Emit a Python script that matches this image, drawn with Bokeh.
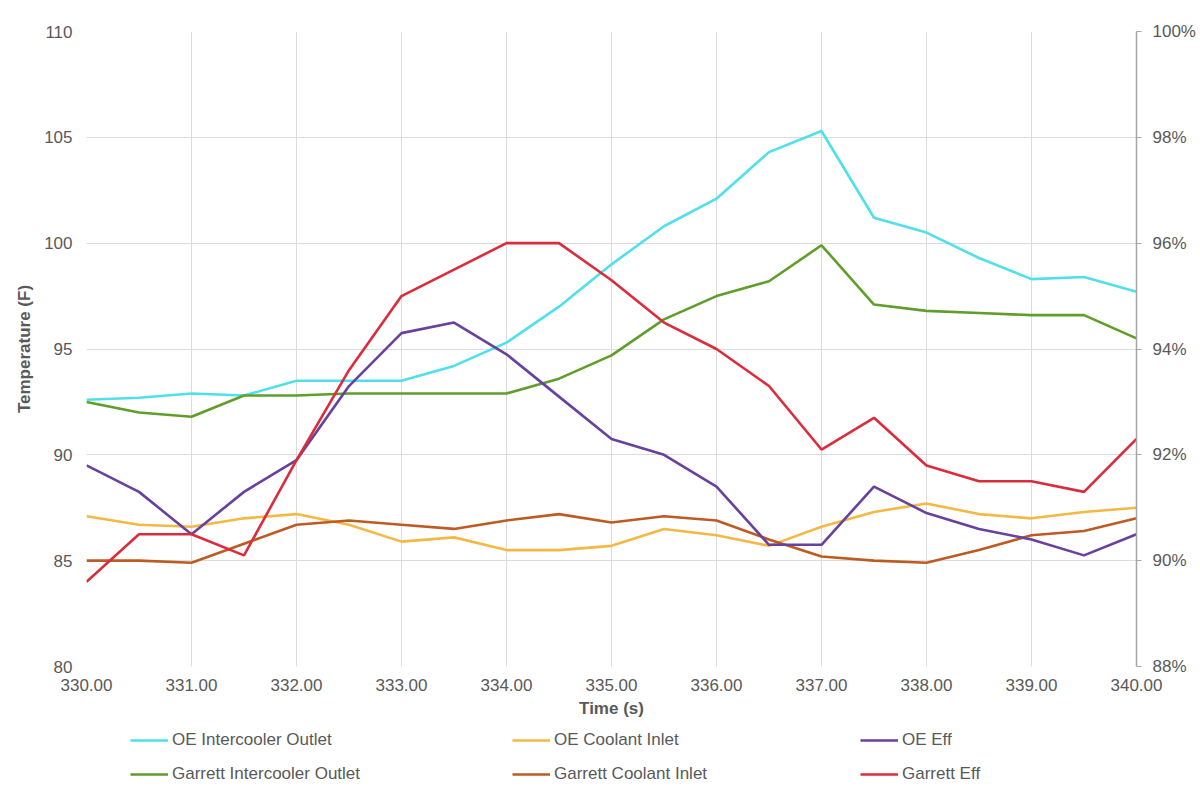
from bokeh.plotting import figure
from bokeh.layouts import column
from bokeh.models import (Range1d, LinearAxis, FixedTicker, PrintfTickFormatter,
                          Legend, LegendItem)
from bokeh.embed import file_html
from bokeh.resources import INLINE

time_s = [330.0, 330.5, 331.0, 331.5, 332.0, 332.5, 333.0, 333.5, 334.0, 334.5, 335.0,
          335.5, 336.0, 336.5, 337.0, 337.5, 338.0, 338.5, 339.0, 339.5, 340.0]

oe_ic_out = [92.6, 92.7, 92.9, 92.8, 93.5, 93.5, 93.5, 94.2, 95.3, 97.0, 99.0,
             100.8, 102.1, 104.3, 105.3, 101.2, 100.5, 99.3, 98.3, 98.4, 97.7]
oe_coolant = [87.1, 86.7, 86.6, 87.0, 87.2, 86.7, 85.9, 86.1, 85.5, 85.5, 85.7,
              86.5, 86.2, 85.7, 86.6, 87.3, 87.7, 87.2, 87.0, 87.3, 87.5]
oe_eff = [91.8, 91.3, 90.5, 91.3, 91.9, 93.3, 94.3, 94.5, 93.9, 93.1, 92.3,
          92.0, 91.4, 90.3, 90.3, 91.4, 90.9, 90.6, 90.4, 90.1, 90.5]
garrett_ic_out = [92.5, 92.0, 91.8, 92.8, 92.8, 92.9, 92.9, 92.9, 92.9, 93.6, 94.7,
                  96.4, 97.5, 98.2, 99.9, 97.1, 96.8, 96.7, 96.6, 96.6, 95.5]
garrett_coolant = [85.0, 85.0, 84.9, 85.8, 86.7, 86.9, 86.7, 86.5, 86.9, 87.2, 86.8,
                   87.1, 86.9, 86.0, 85.2, 85.0, 84.9, 85.5, 86.2, 86.4, 87.0]
garrett_eff = [89.6, 90.5, 90.5, 90.1, 91.9, 93.6, 95.0, 95.5, 96.0, 96.0, 95.3,
               94.5, 94.0, 93.3, 92.1, 92.7, 91.8, 91.5, 91.5, 91.3, 92.3]

x_ticks = [330, 331, 332, 333, 334, 335, 336, 337, 338, 339, 340]
left_ticks = [80, 85, 90, 95, 100, 105, 110]
right_ticks = [88, 90, 92, 94, 96, 98, 100]

series_names = ["OE Intercooler Outlet", "OE Coolant Inlet", "OE Eff",
                "Garrett Intercooler Outlet", "Garrett Coolant Inlet", "Garrett Eff"]
series_colors = ["#4FE0EC", "#F4B944", "#68409E", "#5F9E2A", "#BD5B22", "#DC2B3B"]

FONT = "Liberation Sans"
TXT = "#595959"
GRID = "#dcdcdc"
LW = 2.6
FS = "17px"

p = figure(width=1200, height=724, output_backend="svg", toolbar_location=None,
           x_range=Range1d(330, 340), y_range=Range1d(80, 110),
           min_border_left=86, min_border_right=64, min_border_top=31,
           min_border_bottom=58)
p.outline_line_color = None
p.background_fill_color = "white"
p.border_fill_color = "white"
p.extra_y_ranges = {"eff": Range1d(88, 100)}

p.xgrid.ticker = FixedTicker(ticks=x_ticks)
p.ygrid.ticker = FixedTicker(ticks=left_ticks)
for g in (p.xgrid, p.ygrid):
    g.grid_line_color = GRID
    g.grid_line_width = 1

xa = p.xaxis[0]
xa.ticker = FixedTicker(ticks=x_ticks)
xa.formatter = PrintfTickFormatter(format="%.2f")
xa.axis_label = "Time (s)"
xa.axis_line_color = None
xa.major_tick_line_color = None
xa.minor_tick_line_color = None
xa.major_tick_out = 0
xa.major_label_standoff = 12
xa.axis_label_standoff = 5

ya = p.yaxis[0]
ya.ticker = FixedTicker(ticks=left_ticks)
ya.axis_label = "Temperature (F)"
ya.axis_line_color = None
ya.major_tick_line_color = None
ya.minor_tick_line_color = None
ya.major_tick_out = 0
ya.major_label_standoff = 14
ya.axis_label_standoff = 7

ra = LinearAxis(y_range_name="eff", ticker=FixedTicker(ticks=right_ticks),
                formatter=PrintfTickFormatter(format="%d%%"))
ra.axis_line_color = "#a6a6a6"
ra.axis_line_width = 1.5
ra.major_tick_line_color = "#a6a6a6"
ra.major_tick_in = 0
ra.major_tick_out = 5
ra.minor_tick_line_color = None
ra.major_label_standoff = 11
p.add_layout(ra, "right")

for ax in (xa, ya, ra):
    ax.major_label_text_font = FONT
    ax.major_label_text_font_size = FS
    ax.major_label_text_color = TXT
    ax.axis_label_text_font = FONT
    ax.axis_label_text_font_size = FS
    ax.axis_label_text_font_style = "bold"
    ax.axis_label_text_color = TXT

p.line(time_s, oe_ic_out, line_color=series_colors[0], line_width=LW)
p.line(time_s, garrett_ic_out, line_color=series_colors[3], line_width=LW)
p.line(time_s, oe_coolant, line_color=series_colors[1], line_width=LW)
p.line(time_s, garrett_coolant, line_color=series_colors[4], line_width=LW)
p.line(time_s, oe_eff, line_color=series_colors[2], line_width=LW, y_range_name="eff")
p.line(time_s, garrett_eff, line_color=series_colors[5], line_width=LW, y_range_name="eff")

# legend strip below the chart (its frame is aligned with the main frame: x from 86)
lf = figure(width=1200, height=76, output_backend="svg", toolbar_location=None,
            x_range=Range1d(0, 1), y_range=Range1d(0, 1),
            min_border_left=86, min_border_right=64, min_border_top=0, min_border_bottom=0)
lf.axis.visible = False
lf.grid.visible = False
lf.outline_line_color = None
lf.border_fill_color = "white"
lf.background_fill_color = "white"

# legend proxies: lines kept outside the visible range of the strip
proxies = [lf.line([-5, -4], [-5, -4], line_color=c, line_width=LW) for c in series_colors]


def make_legend(idx, loc):
    items = [LegendItem(label=series_names[i], renderers=[proxies[i]]) for i in idx]
    lg = Legend(items=items, location=loc, orientation="vertical")
    lg.margin = 0
    lg.padding = 0
    lg.border_line_color = None
    lg.background_fill_alpha = 0
    lg.glyph_width = 38
    lg.glyph_height = 20
    lg.label_height = 20
    lg.label_standoff = 4
    lg.spacing = 14
    lg.label_text_font = FONT
    lg.label_text_font_size = FS
    lg.label_text_color = TXT
    return lg


lf.add_layout(make_legend([0, 3], (44, 16)), "center")
lf.add_layout(make_legend([1, 4], (426, 16)), "center")
lf.add_layout(make_legend([2, 5], (774, 16)), "center")

layout = column(p, lf, spacing=0)
open("out.html", "w").write(file_html(layout, INLINE))
